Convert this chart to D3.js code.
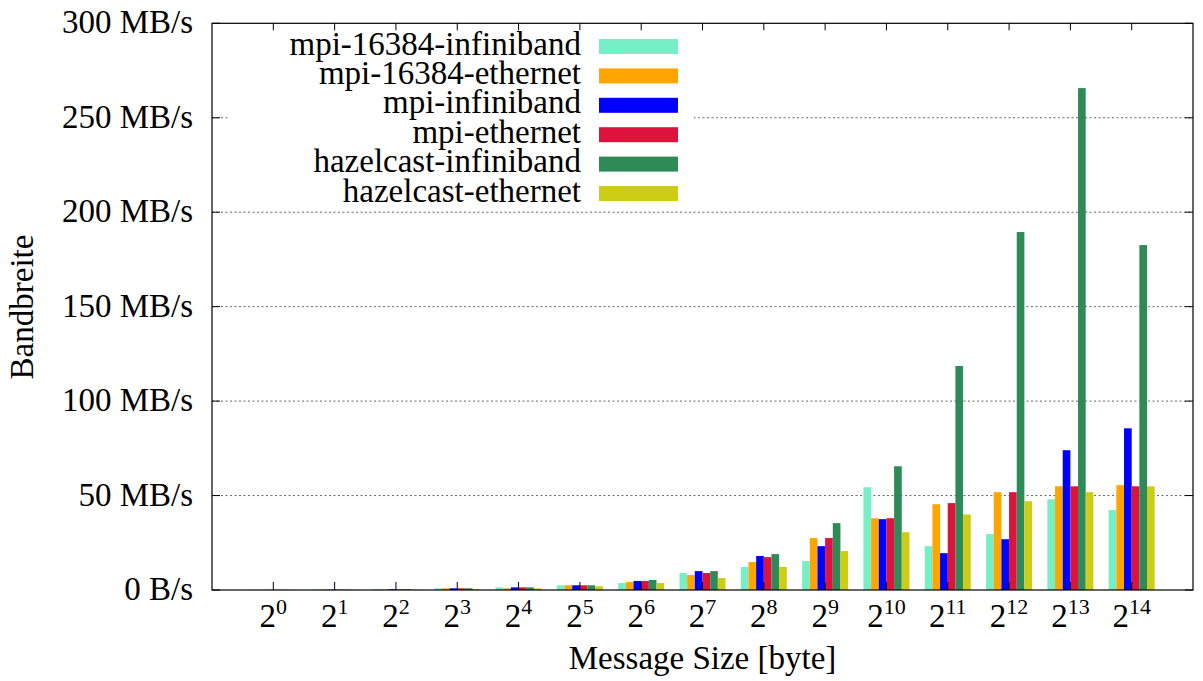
<!DOCTYPE html>
<meta charset="utf-8">
<head>
    <script type="text/javascript" src="https://d3js.org/d3.v7.min.js"></script>
    <style>
        body { margin: 0; background: #fff; }
        text { font-family: "Liberation Serif", "DejaVu Serif", serif; fill: #000; }
    </style>
</head>
<body>
<div id="chart"></div>
<script>
    // message sizes 2^0 .. 2^14
    var exponents = [0, 1, 2, 3, 4, 5, 6, 7, 8, 9, 10, 11, 12, 13, 14];
    var seriesNames = ["mpi-16384-infiniband", "mpi-16384-ethernet", "mpi-infiniband",
        "mpi-ethernet", "hazelcast-infiniband", "hazelcast-ethernet"];
    var seriesColors = ["#76eec6", "#ffa500", "#0000ff", "#dc143c", "#2e8b57", "#cdcd18"];

    // bandwidth in MB/s
    var mpi16384Infiniband = [0.1, 0.2, 0.4, 0.9, 1.4, 2.5, 3.7, 9.0, 12.2, 15.3, 54.4, 23.2, 29.6, 48.0, 42.3];
    var mpi16384Ethernet = [0.1, 0.2, 0.3, 0.9, 0.9, 2.5, 4.2, 7.9, 14.8, 27.5, 38.0, 45.4, 51.8, 54.9, 55.5];
    var mpiInfiniband = [0.1, 0.2, 0.4, 0.9, 1.4, 2.5, 4.8, 10.0, 18.0, 23.2, 37.5, 19.5, 26.9, 74.0, 85.6];
    var mpiEthernet = [0.1, 0.2, 0.3, 0.9, 1.4, 2.5, 4.8, 9.0, 17.4, 27.5, 38.0, 46.0, 51.8, 54.9, 54.9];
    var hazelcastInfiniband = [0.1, 0.2, 0.4, 0.9, 1.4, 2.5, 5.3, 10.0, 19.0, 35.4, 65.5, 118.6, 189.5, 265.7, 182.6];
    var hazelcastEthernet = [0.05, 0.1, 0.2, 0.5, 0.9, 2.0, 3.7, 6.3, 12.2, 20.6, 30.6, 40.0, 47.0, 51.8, 54.9];
    var allSeries = [mpi16384Infiniband, mpi16384Ethernet, mpiInfiniband, mpiEthernet,
        hazelcastInfiniband, hazelcastEthernet];

    var yTicks = [0, 50, 100, 150, 200, 250, 300];
    var yTickLabels = ["0 B/s", "50 MB/s", "100 MB/s", "150 MB/s", "200 MB/s", "250 MB/s", "300 MB/s"];

    var w = 1203, h = 681;
    var plotLeft = 212, plotRight = 1193, plotTop = 23.3, plotBottom = 590;
    var fs = "33px";

    var svg = d3.select("#chart").append("svg").attr("width", w).attr("height", h);

    var x = d3.scaleLinear().domain([-1, 15]).range([plotLeft, plotRight]);
    var y = d3.scaleLinear().domain([0, 300]).range([plotBottom, plotTop]);

    // grid lines
    svg.selectAll("line.grid")
        .data(yTicks.filter(t => t > 0 && t < 300))
        .enter().append("line")
        .attr("class", "grid")
        .attr("x1", plotLeft).attr("x2", plotRight)
        .attr("y1", d => y(d)).attr("y2", d => y(d))
        .attr("stroke", "#666").attr("stroke-width", 1)
        .attr("stroke-dasharray", "2,2.5");

    // bars
    var nSeries = allSeries.length;
    var boxW = 1 / (nSeries + 2);
    allSeries.forEach((vals, i) => {
        svg.append("g").selectAll("rect")
            .data(vals)
            .enter().append("rect")
            .attr("x", (d, k) => x(exponents[k] + (i - nSeries / 2) * boxW))
            .attr("width", x(boxW) - x(0))
            .attr("y", d => y(d))
            .attr("height", d => y(0) - y(d))
            .attr("fill", seriesColors[i]);
    });

    // legend (opaque)
    var legend = svg.append("g");
    legend.append("rect")
        .attr("x", 228).attr("y", 30).attr("width", 466).attr("height", 176)
        .attr("fill", "#fff");
    seriesNames.forEach((name, i) => {
        var cy = 46.5 + i * 29.4;
        legend.append("text")
            .attr("x", 581).attr("y", cy + 8)
            .attr("text-anchor", "end")
            .style("font-size", fs)
            .text(name);
        legend.append("rect")
            .attr("x", 599).attr("y", cy - 7.5)
            .attr("width", 79).attr("height", 15)
            .attr("fill", seriesColors[i]);
    });

    // border
    svg.append("rect")
        .attr("x", plotLeft).attr("y", plotTop)
        .attr("width", plotRight - plotLeft).attr("height", plotBottom - plotTop)
        .attr("fill", "none").attr("stroke", "#000").attr("stroke-width", 1.2);

    // y ticks (left and right, inward)
    yTicks.forEach((t, i) => {
        svg.append("line").attr("x1", plotLeft).attr("x2", plotLeft + 8)
            .attr("y1", y(t)).attr("y2", y(t)).attr("stroke", "#000");
        svg.append("line").attr("x1", plotRight - 8).attr("x2", plotRight)
            .attr("y1", y(t)).attr("y2", y(t)).attr("stroke", "#000");
        svg.append("text")
            .attr("x", 193).attr("y", y(t) + 10)
            .attr("text-anchor", "end")
            .style("font-size", fs)
            .text(yTickLabels[i]);
    });

    // x ticks (bottom and top, inward) with 2^n labels
    exponents.forEach(e => {
        svg.append("line").attr("x1", x(e)).attr("x2", x(e))
            .attr("y1", plotBottom).attr("y2", plotBottom - 8).attr("stroke", "#000");
        svg.append("line").attr("x1", x(e)).attr("x2", x(e))
            .attr("y1", plotTop).attr("y2", plotTop + 7).attr("stroke", "#000");
        var lab = svg.append("text")
            .attr("x", x(e)).attr("y", 627)
            .attr("text-anchor", "middle")
            .style("font-size", fs);
        lab.append("tspan").text("2");
        lab.append("tspan").attr("dy", -13).style("font-size", "22px").text(e);
    });

    // axis titles
    svg.append("text")
        .attr("x", (plotLeft + plotRight) / 2).attr("y", 669)
        .attr("text-anchor", "middle")
        .style("font-size", fs)
        .text("Message Size [byte]");

    svg.append("text")
        .attr("transform", "translate(33," + 307 + ") rotate(-90)")
        .attr("text-anchor", "middle")
        .style("font-size", fs)
        .text("Bandbreite");
</script>
</body>
